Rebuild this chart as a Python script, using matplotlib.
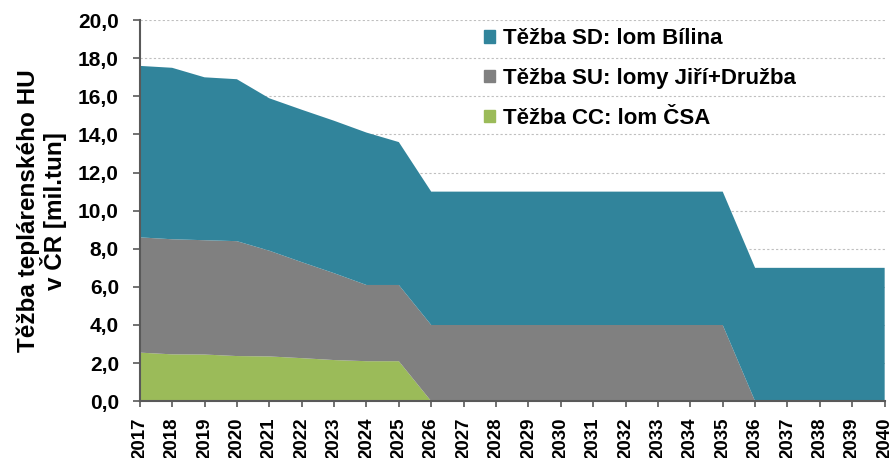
import matplotlib.pyplot as plt
from matplotlib.patches import Patch

plt.rcParams['font.family'] = ['Liberation Sans', 'DejaVu Sans']
plt.rcParams['font.weight'] = 'bold'

years = list(range(2017, 2041))

# annual extraction per mine [mil. t] (stack order bottom -> top)
cc_csa = [2.55, 2.46, 2.45, 2.37, 2.35, 2.26, 2.16, 2.1, 2.1] + [0.0] * 15
su_jiri_druzba = [6.05, 6.04, 6.0, 6.03, 5.55, 5.04, 4.56, 4.0, 4.0] + [4.0] * 10 + [0.0] * 5
sd_bilina = [9.0, 9.0, 8.55, 8.5, 8.0, 8.0, 8.0, 8.0, 7.5] + [7.0] * 10 + [7.0] * 5

labels = ['Těžba SD: lom Bílina', 'Těžba SU: lomy Jiří+Družba', 'Těžba CC: lom ČSA']
colors = ['#31849b', '#808080', '#9bbb59']

fig = plt.figure(figsize=(8.9, 4.58), dpi=100)
ax = fig.add_axes([0.157, 0.124, 0.837, 0.832])

ax.stackplot(years, cc_csa, su_jiri_druzba, sd_bilina,
             colors=[colors[2], colors[1], colors[0]], linewidth=0)

ax.set_xlim(2017, 2040)
ax.set_ylim(0, 20)
ax.set_yticks([i * 2 for i in range(11)])
ax.set_yticklabels([f'{i * 2},0' for i in range(11)], fontsize=15, fontweight='bold')
ax.set_xticks(years)
ax.set_xticklabels([str(y) for y in years], rotation=90, fontsize=13.5, fontweight='bold')

ax.grid(axis='y', linestyle=(0, (2, 2)), color='#bfbfbf', linewidth=0.8)
ax.set_axisbelow(True)

for s in ['top', 'right']:
    ax.spines[s].set_visible(False)
for s in ['left', 'bottom']:
    ax.spines[s].set_color('#595959')
    ax.spines[s].set_linewidth(1.5)
ax.tick_params(axis='both', direction='out', color='#595959', width=1.2, length=5)
ax.tick_params(axis='y', pad=10)
ax.tick_params(axis='x', length=4, pad=8)

ax.set_ylabel('Těžba teplárenského HU\nv ČR [mil.tun]', fontsize=17.5, fontweight='bold',
              labelpad=8, linespacing=1.0)

handles = [Patch(color=c) for c in colors]
ax.legend(handles, labels, loc='upper left', bbox_to_anchor=(0.441, 1.02), frameon=False,
          handlelength=0.5, handleheight=0.5, handletextpad=0.35, borderaxespad=0.3,
          labelspacing=0.85, prop={'weight': 'bold', 'size': 16})

fig.savefig('out.png', dpi=100)
